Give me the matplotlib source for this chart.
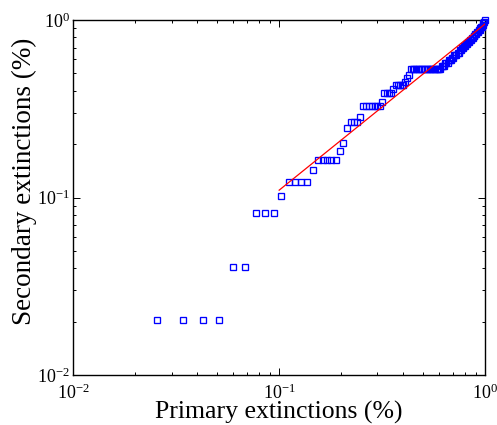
import matplotlib
matplotlib.use("Agg")
import matplotlib.pyplot as plt
import numpy as np
from matplotlib.ticker import LogLocator, NullFormatter

plt.rcParams['font.family'] = ['Liberation Serif', 'DejaVu Serif']
plt.rcParams['mathtext.fontset'] = 'stix'

# Totals used to normalise counts into fractions
n_primary_total = 117
n_secondary_total = 49

# Number of primary extinctions (x) and resulting secondary extinctions (y)
primary_counts = [3, 4, 5, 6, 7, 8, 9, 10, 11, 12, 13, 14, 15, 16, 17, 18, 19, 20,
                  21, 22, 23, 24, 25, 26, 27, 28, 29, 30, 31, 32, 33, 34, 35, 36,
                  37, 38, 39, 40, 41, 42, 43, 44, 45, 46, 47, 48, 49, 50, 51, 52,
                  53, 54, 55, 56, 57, 58, 59, 60, 61, 62, 63, 64, 65, 66, 67, 68,
                  69, 70, 71, 72, 73, 74, 75, 76, 77, 78, 79, 80, 81, 82, 83, 84,
                  85, 86, 87, 88, 89, 90, 91, 92, 93, 94, 95, 96, 97, 98, 99, 100,
                  101, 102, 103, 104, 105, 106, 107, 108, 109, 110, 111, 112, 113,
                  114, 115, 116, 117]
secondary_counts = [1, 1, 1, 1, 2, 2, 4, 4, 4, 5, 6, 6, 6, 6, 7, 8, 8, 8,
                    8, 8, 9, 10, 12, 13, 13, 13, 14, 16, 16, 16, 16, 16, 16, 16,
                    17, 19, 19, 19, 19, 20, 21, 21, 21, 21, 21, 22, 23, 24, 26, 26,
                    26, 26, 26, 26, 26, 26, 26, 26, 26, 26, 26, 26, 26, 26, 26, 26,
                    26, 26, 26, 27, 27, 27, 28, 28, 28, 29, 29, 29, 30, 30, 31, 31,
                    31, 32, 32, 33, 33, 34, 34, 35, 35, 35, 36, 36, 37, 37, 38, 38,
                    39, 39, 40, 40, 41, 41, 42, 42, 43, 43, 44, 45, 45,
                    46, 47, 48, 49]

# Power-law fit line endpoints
fit_x = [0.1, 1.0]
fit_y = [0.110, 0.95]

x = np.array(primary_counts) / n_primary_total
y = np.array(secondary_counts) / n_secondary_total

fig = plt.figure(figsize=(4.97, 4.25), dpi=100)
ax = fig.add_axes([0.1475, 0.1176, 0.8284, 0.8353])

ax.plot(x, y, linestyle='none', marker='s', markersize=4.2,
        markerfacecolor='none', markeredgecolor='#0000ff',
        markeredgewidth=0.95, clip_on=False, zorder=3)
ax.plot(fit_x, fit_y, color='#ff0000', linewidth=0.9, zorder=4)

ax.set_xscale('log')
ax.set_yscale('log')
ax.set_xlim(0.01, 1)
ax.set_ylim(0.01, 1)

for a in (ax.xaxis, ax.yaxis):
    a.set_major_locator(LogLocator(base=10, numticks=10))
    a.set_minor_locator(LogLocator(base=10, subs=np.arange(2, 10), numticks=20))
    a.set_minor_formatter(NullFormatter())

ax.tick_params(which='both', direction='in', top=True, right=True,
               labelsize=13, width=0.7)
ax.tick_params(which='major', length=5)
ax.tick_params(axis='x', which='major', pad=6)
ax.tick_params(axis='y', which='major', pad=2.5)
ax.tick_params(which='minor', length=2.5)
for s in ax.spines.values():
    s.set_linewidth(1.0)

ax.set_xlabel('Primary extinctions (%)', fontsize=18.5, labelpad=-1)
ax.set_ylabel('Secondary extinctions (%)', fontsize=19.5)
ax.yaxis.set_label_coords(-0.088, 0.545)

fig.savefig('out.png', dpi=100)
